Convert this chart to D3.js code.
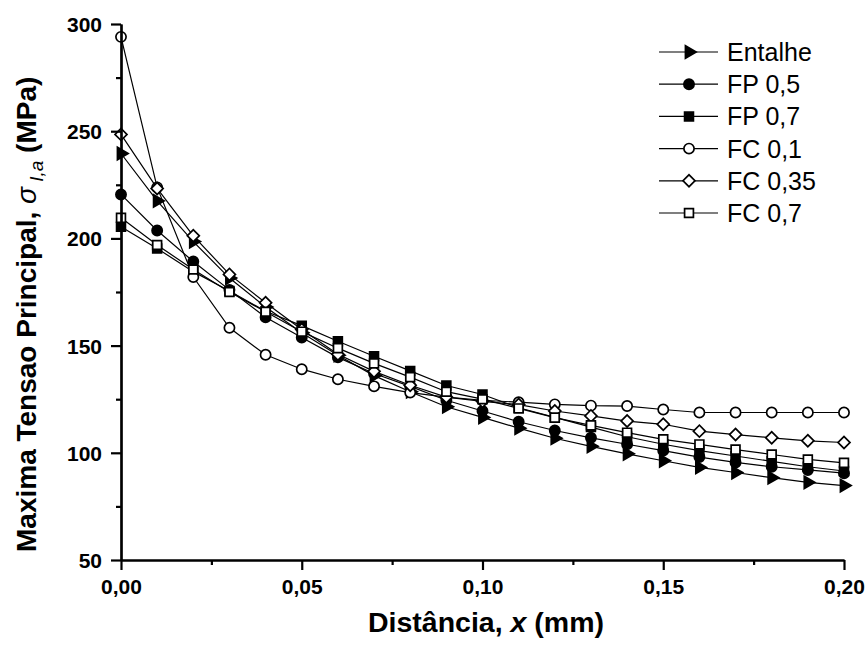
<!DOCTYPE html>
<html>
<head>
<meta charset="utf-8">
<script src="https://cdn.jsdelivr.net/npm/d3@7"></script>
<style>
	body { margin: 0; background: #fff; }
	text { font-family: "Liberation Sans", Arial, sans-serif; }
</style>
</head>
<body>
<div class="chartDiv"></div>
<script>
// distance (mm)
var xValues = [0, 0.01, 0.02, 0.03, 0.04, 0.05, 0.06, 0.07, 0.08, 0.09, 0.10,
	0.11, 0.12, 0.13, 0.14, 0.15, 0.16, 0.17, 0.18, 0.19, 0.20];

// max principal stress (MPa) per case
var entalhe = [239.6, 217.5, 198.5, 181.5, 168, 156, 145.5, 136, 128.5, 121.5, 116.5,
	111.5, 106.8, 103, 99.5, 96.3, 93.2, 90.8, 88.4, 86.2, 84.7];
var fp05 = [220.5, 203.7, 189.2, 176, 163.2, 153.8, 144.5, 137, 131, 124.5, 119.5,
	114.5, 110.4, 107, 104, 101, 98, 95.5, 93.5, 92, 90.5];
var fp07 = [205.4, 195.3, 184.5, 175.5, 166, 159.3, 152, 145, 138.2, 131.4, 127.2,
	121, 116.5, 112, 107.5, 104, 101, 98.5, 96, 93.5, 91.5];
var fc01 = [294, 223.8, 182, 158.3, 145.7, 139, 134.3, 131, 128.1, 126, 124.5,
	123.6, 122.6, 122, 121.8, 120.2, 118.8, 118.8, 118.8, 118.8, 118.8];
var fc035 = [248.5, 223.3, 201.2, 183.2, 170, 157.5, 146, 138, 131.5, 126, 124,
	122.5, 119.5, 117.2, 114.8, 113.3, 110.1, 108.5, 107, 105.6, 104.8];
var fc07 = [209.6, 196.9, 185.5, 175, 165.8, 156.5, 148.8, 141.7, 135.3, 128.5, 125,
	120.7, 116.4, 112.8, 109.4, 106.3, 103.9, 101.5, 99.2, 96.9, 95.3];

var seriesNames = ["Entalhe", "FP 0,5", "FP 0,7", "FC 0,1", "FC 0,35", "FC 0,7"];
var xTicks = [0, 0.05, 0.10, 0.15, 0.20];
var xMinor = [0.025, 0.075, 0.125, 0.175];
var yTicks = [50, 100, 150, 200, 250, 300];
var yMinor = [75, 125, 175, 225, 275];

var series = [
	{ name: seriesNames[0], values: entalhe, shape: "triangle", fill: "#000" },
	{ name: seriesNames[1], values: fp05, shape: "circle", fill: "#000" },
	{ name: seriesNames[2], values: fp07, shape: "square", fill: "#000" },
	{ name: seriesNames[3], values: fc01, shape: "circle", fill: "#fff" },
	{ name: seriesNames[4], values: fc035, shape: "diamond", fill: "#fff" },
	{ name: seriesNames[5], values: fc07, shape: "square", fill: "#fff" }
];

var width = 867, height = 648;

var xScale = d3.scaleLinear().domain([0, 0.20]).range([121, 844]);
var yScale = d3.scaleLinear().domain([50, 300]).range([560, 24]);

var ptBR = d3.formatLocale({ decimal: ",", thousands: ".", grouping: [3], currency: ["", ""] });
var fmtX = ptBR.format(".2f");

var svg = d3.select(".chartDiv").append("svg")
	.attr("width", width)
	.attr("height", height);

// marker path generator
function markerPath(shape) {
	if (shape == "circle") return d3.symbol(d3.symbolCircle, 82)();
	if (shape == "square") return d3.symbol(d3.symbolSquare, 78)();
	if (shape == "diamond") return d3.symbol(d3.symbolSquare, 72)();
	return d3.symbol(d3.symbolTriangle, 66)();
}
function markerRotate(shape) {
	if (shape == "diamond") return 45;
	if (shape == "triangle") return 90;
	return 0;
}

var line = d3.line()
	.x(function (d, i) { return xScale(xValues[i]); })
	.y(function (d) { return yScale(d); });

// series lines + markers
series.forEach(function (s) {
	var g = svg.append("g").attr("class", "series");
	g.append("path")
		.attr("d", line(s.values))
		.attr("fill", "none")
		.attr("stroke", "#000")
		.attr("stroke-width", 1.2);
	g.selectAll("path.mark")
		.data(s.values)
		.enter().append("path")
		.attr("class", "mark")
		.attr("d", markerPath(s.shape))
		.attr("transform", function (d, i) {
			return "translate(" + xScale(xValues[i]) + "," + yScale(d) + ") rotate(" + markerRotate(s.shape) + ")";
		})
		.attr("fill", s.fill)
		.attr("stroke", "#000")
		.attr("stroke-width", 1.7);
});

// axes
svg.append("g")
	.attr("transform", "translate(0," + yScale(50) + ")")
	.call(d3.axisBottom(xScale).tickValues(xTicks).tickFormat(fmtX).tickSize(10).tickSizeOuter(0).tickPadding(9));
svg.append("g")
	.attr("transform", "translate(0," + yScale(50) + ")")
	.call(d3.axisBottom(xScale).tickValues(xMinor).tickFormat("").tickSize(5).tickSizeOuter(0));

var yAxis = svg.append("g")
	.attr("transform", "translate(" + xScale(0) + ",0)")
	.call(d3.axisLeft(yScale).tickValues(yTicks).tickFormat(d3.format("d")).tickSize(10).tickSizeOuter(0).tickPadding(9));
svg.append("g")
	.attr("transform", "translate(" + xScale(0) + ",0)")
	.call(d3.axisLeft(yScale).tickValues(yMinor).tickFormat("").tickSize(5).tickSizeOuter(0));

svg.selectAll(".domain, .tick line")
	.attr("stroke", "#000")
	.attr("stroke-width", 2.2);
svg.selectAll(".tick text")
	.attr("fill", "#000")
	.style("font-size", "21px")
	.style("font-weight", "bold");
yAxis.selectAll(".tick text").attr("dy", "0.36em");

// axis titles
var xTitle = svg.append("text")
	.attr("x", 486)
	.attr("y", 632)
	.attr("text-anchor", "middle")
	.style("font-size", "28.5px")
	.style("font-weight", "bold");
xTitle.append("tspan").text("Distância, ");
xTitle.append("tspan").style("font-style", "italic").text("x");
xTitle.append("tspan").text(" (mm)");

var yTitle = svg.append("text")
	.attr("transform", "translate(36,552) rotate(-90)")
	.attr("text-anchor", "start")
	.style("font-size", "28px")
	.style("font-weight", "bold");
yTitle.append("tspan").text("Maxima Tensao Principal, ");
yTitle.append("tspan").style("font-style", "italic").style("font-weight", "normal").text("σ");
yTitle.append("tspan").style("font-style", "italic").style("font-weight", "normal")
	.style("font-size", "19px").attr("dy", 7).text(" I,a");
yTitle.append("tspan").attr("dy", -7).text(" (MPa)");

// legend
var legend = svg.append("g").attr("class", "legend");
var legRows = legend.selectAll("g")
	.data(series)
	.enter().append("g")
	.attr("transform", function (d, i) { return "translate(0," + (52 + i * 32.2) + ")"; });
legRows.append("line")
	.attr("x1", 659).attr("x2", 718)
	.attr("stroke", "#000")
	.attr("stroke-width", 1.2);
legRows.append("path")
	.attr("d", function (d) { return markerPath(d.shape); })
	.attr("transform", function (d) { return "translate(689,0) rotate(" + markerRotate(d.shape) + ")"; })
	.attr("fill", function (d) { return d.fill; })
	.attr("stroke", "#000")
	.attr("stroke-width", 1.7);
legRows.append("text")
	.attr("x", 727)
	.attr("dy", "0.36em")
	.style("font-size", "25px")
	.text(function (d) { return d.name; });
</script>
</body>
</html>
